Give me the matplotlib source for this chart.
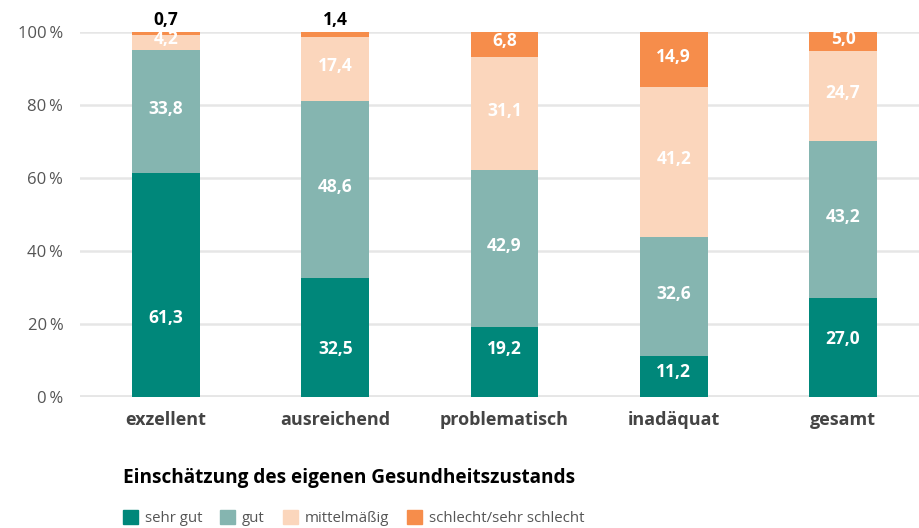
import matplotlib.pyplot as plt
from matplotlib.patches import Patch
import numpy as np

categories = ["exzellent", "ausreichend", "problematisch", "inadäquat", "gesamt"]
sehr_gut = [61.3, 32.5, 19.2, 11.2, 27.0]
gut = [33.8, 48.6, 42.9, 32.6, 43.2]
mittel = [4.2, 17.4, 31.1, 41.2, 24.7]
schlecht = [0.7, 1.4, 6.8, 14.9, 5.0]
series_names = ["sehr gut", "gut", "mittelmäßig", "schlecht/sehr schlecht"]
yticks = [0, 20, 40, 60, 80, 100]

# Label-Hoehe im untersten Segment ist im Original von Hand gesetzt
label_y_sehr_gut = [21.6, 13.1, 13.1, 6.8, 15.9]

colors = ["#00877a", "#85b5b0", "#fbd6bc", "#f68d4b"]

plt.rcParams['font.family'] = ['Open Sans', 'DejaVu Sans']

fig = plt.figure(figsize=(9.19, 5.28), dpi=100)
ax = fig.add_axes([80 / 919, 1 - 397 / 528, 1 - 80 / 919, (397 - 32) / 528])

x = np.arange(len(categories))
bottom = np.zeros(len(categories))
for k, (vals, col) in enumerate(zip([sehr_gut, gut, mittel, schlecht], colors)):
    vals = np.array(vals)
    ax.bar(x, vals, width=0.40, bottom=bottom, color=col, zorder=3)
    for i, (xi, b, v) in enumerate(zip(x, bottom, vals)):
        txt = f"{v:.1f}".replace(".", ",")
        if v < 3:
            # zu klein, Label ueber den Balken
            ax.text(xi, 100.8, txt, ha='center', va='bottom', color='black',
                    fontsize=12.5, fontweight='bold', clip_on=False)
        else:
            ty = label_y_sehr_gut[i] if k == 0 else b + v / 2 + 0.8
            ax.text(xi, ty, txt, ha='center', va='center', color='white',
                    fontsize=12.5, fontweight='bold', zorder=4)
    bottom += vals

ax.set_xlim(-0.508, 4.449)
ax.set_ylim(0, 100)
ax.set_yticks(yticks)
ax.set_yticklabels([f"{t}\u2009%" for t in yticks], color='#555555', fontsize=12)
for t in yticks:
    ax.axhline(t, color='#e6e6e6', lw=3.5 if t == 0 else 1.8, zorder=1)
ax.set_xticks(x)
ax.set_xticklabels(categories, fontsize=13, fontweight='bold', color='#444444')
ax.tick_params(axis='both', length=0)
ax.tick_params(axis='x', pad=10)
ax.tick_params(axis='y', pad=12)
for s in ax.spines.values():
    s.set_visible(False)

fig.text(123 / 919, 1 - 478 / 528, "Einschätzung des eigenen Gesundheitszustands",
         fontsize=13.7, fontweight='bold', color='black', va='center')

handles = [Patch(color=c, label=n) for c, n in zip(colors, series_names)]
fig.legend(handles=handles, loc='center left', bbox_to_anchor=(123 / 919, 1 - 518 / 528),
           ncol=4, frameon=False, fontsize=10.8, handlelength=1.0, handleheight=1.0,
           handletextpad=0.45, columnspacing=1.2, borderaxespad=0, borderpad=0,
           labelcolor='#555555')

fig.savefig("out.png", dpi=100)
